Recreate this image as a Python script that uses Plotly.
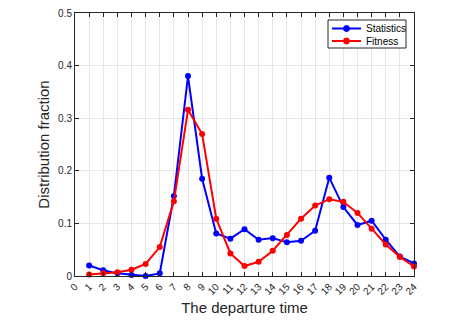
import plotly.graph_objects as go

hours = list(range(1, 25))
tick_vals = list(range(0, 25))
tick_text = [str(v) for v in tick_vals]
statistics = [0.020, 0.011, 0.005, 0.002, 0.000, 0.005, 0.152, 0.380, 0.185, 0.081,
              0.071, 0.089, 0.069, 0.072, 0.064, 0.067, 0.086, 0.187, 0.131, 0.097,
              0.105, 0.069, 0.037, 0.024]
fitness = [0.003, 0.005, 0.007, 0.012, 0.023, 0.055, 0.142, 0.316, 0.270, 0.109,
           0.043, 0.019, 0.027, 0.048, 0.078, 0.109, 0.134, 0.146, 0.141, 0.120,
           0.090, 0.060, 0.036, 0.018]
y_ticks = [0, 0.1, 0.2, 0.3, 0.4, 0.5]
y_text = ["0", "0.1", "0.2", "0.3", "0.4", "0.5"]
series_names = ["Statistics", "Fitness"]
series_colors = ["#0000FF", "#FF0000"]

W, H = 474, 334
ML, MR, MT, MB = 75, 60, 13, 58
PW, PH = W - ML - MR, H - MT - MB

fig = go.Figure()
for name, vals, col in zip(series_names, [statistics, fitness], series_colors):
    fig.add_trace(go.Scatter(x=hours, y=vals, mode="lines+markers", name=name,
                             line=dict(color=col, width=2),
                             marker=dict(color=col, size=6, symbol="circle"),
                             cliponaxis=False, showlegend=False))

# compact MATLAB-style legend (pixel layout converted to paper coords)
def px(x):
    return (x - ML) / PW

def py(y):
    return (H - MB - y) / PH

shapes = [dict(type="rect", xref="paper", yref="paper", x0=px(328), x1=px(406),
               y0=py(48), y1=py(20), line=dict(color="#262626", width=1),
               fillcolor="white", layer="above")]
annotations = []
for i, (name, col) in enumerate(zip(series_names, series_colors)):
    yc = 28.5 + i * 12.5
    shapes.append(dict(type="line", xref="paper", yref="paper", x0=px(332), x1=px(361),
                       y0=py(yc), y1=py(yc), line=dict(color=col, width=2), layer="above"))
    shapes.append(dict(type="circle", xref="paper", yref="paper", x0=px(343.5), x1=px(349.5),
                       y0=py(yc + 3), y1=py(yc - 3), line=dict(color=col, width=1),
                       fillcolor=col, layer="above"))
    annotations.append(dict(xref="paper", yref="paper", x=px(364), y=py(yc), text=name,
                            showarrow=False, xanchor="left", yanchor="middle",
                            font=dict(family="Liberation Sans, Arial", size=10, color="#000000")))

axis_common = dict(showline=True, linecolor="#262626", linewidth=1, mirror="ticks",
                   ticks="inside", ticklen=4, tickcolor="#262626", automargin=False,
                   showgrid=True, gridcolor="#E6E6E6", gridwidth=1, zeroline=False,
                   tickfont=dict(family="Liberation Sans, Arial", size=10, color="#262626"))

fig.update_layout(
    width=W, height=H,
    margin=dict(l=ML, r=MR, t=MT, b=MB),
    paper_bgcolor="white", plot_bgcolor="white",
    showlegend=False,
    shapes=shapes, annotations=annotations,
    xaxis=dict(range=[0, 24], tickmode="array", tickvals=tick_vals, ticktext=tick_text,
               tickangle=-45,
               title=dict(text="The departure time", standoff=6,
                          font=dict(family="Liberation Sans, Arial", size=15, color="#262626")),
               **axis_common),
    yaxis=dict(range=[0, 0.5], tickmode="array", tickvals=y_ticks, ticktext=y_text,
               title=dict(text="Distribution fraction", standoff=4,
                          font=dict(family="Liberation Sans, Arial", size=15, color="#262626")),
               **axis_common),
)

fig.write_html("out.html", config={"displayModeBar": False},
               post_script="document.body.style.margin='0';document.body.style.padding='0';")
